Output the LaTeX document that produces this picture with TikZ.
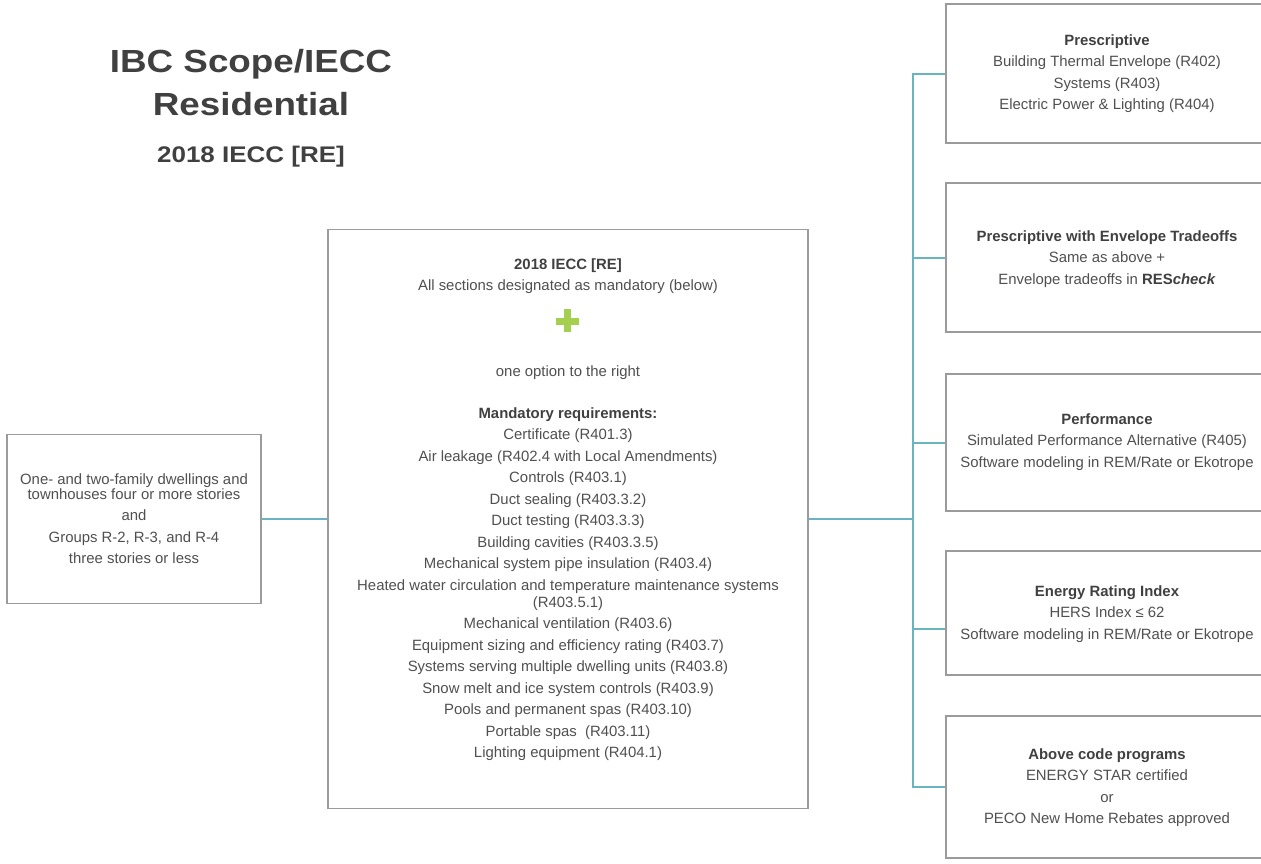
\documentclass[tikz,border=0pt]{standalone}
\usepackage{fontspec}
\setmainfont{Liberation Sans}
\newfontfamily\titlefont[FakeStretch=1.15]{Liberation Sans}
\definecolor{txtgray}{RGB}{80,80,80}
\definecolor{headgray}{RGB}{64,64,64}
\definecolor{tealline}{RGB}{106,180,193}
\definecolor{boxgray}{RGB}{155,155,155}
\definecolor{plusgreen}{RGB}{165,207,79}
\begin{document}
\begin{tikzpicture}[x=1pt,y=-1pt,
  box/.style={draw=boxgray, line width=1.6pt, fill=white, inner sep=0pt, rectangle},
  conn/.style={draw=tealline, line width=2pt},
  body/.style={align=center, inner sep=0pt, text=txtgray, font=\fontsize{14.9}{21.5}\selectfont, anchor=north},
  hd/.style={text=headgray},
  ttl/.style={inner sep=0pt, anchor=base, text=headgray}
]
\useasboundingbox (0,0) rectangle (1261,863);

% title
\node[ttl, font=\titlefont\bfseries\fontsize{32}{32}\selectfont] (t1) at (251,72) {IBC Scope/IECC};
\node[ttl, font=\titlefont\bfseries\fontsize{32}{32}\selectfont] (t2) at (251,115) {Residential};
\node[ttl, font=\titlefont\bfseries\fontsize{22.6}{22.6}\selectfont] (t3) at (251,162) {2018 IECC [RE]};

% boxes
\node[box, minimum width=254, minimum height=169] (scope) at (134,519) {};
\node[box, minimum width=480, minimum height=579] (mid) at (568,519) {};
\node[box, minimum width=322, minimum height=139] (r1) at (1107,73.5) {};
\node[box, minimum width=322, minimum height=149] (r2) at (1107,257.5) {};
\node[box, minimum width=322, minimum height=137] (r3) at (1107,442.5) {};
\node[box, minimum width=322, minimum height=124] (r4) at (1107,613) {};
\node[box, minimum width=322, minimum height=142] (r5) at (1107,787) {};

% connectors
\coordinate (trunk) at (913,519);
\draw[conn] (scope.east) -- (mid.west);
\draw[conn] (mid.east) -- (trunk);
\draw[conn] (trunk) |- (r1.west);
\draw[conn] (trunk) |- (r2.west);
\draw[conn] (trunk) |- (r3.west);
\draw[conn] (trunk) |- ([yshift=-16pt]r4.west);
\draw[conn] (trunk) |- (r5.west);

% left box text
\node[body] (scopetxt) at (134,469) {\strut One- and two-family dwellings and\\[-6.5pt]
townhouses four or more stories\\
and\\
Groups R-2, R-3, and R-4\\
three stories or less};

% middle box text
\node[body] (midhead) at (568,254) {\strut\textbf{\color{headgray}2018 IECC [RE]}\\
All sections designated as mandatory (below)};
\fill[plusgreen] (556,317.5) rectangle (579,324.5);
\fill[plusgreen] (564,309) rectangle (571,332);
\node[body] (midopt) at (568,361) {\strut one option to the right};
\node[body] (midlist) at (568,403) {\strut\textbf{\color{headgray}Mandatory requirements:}\\
Certificate (R401.3)\\
Air leakage (R402.4 with Local Amendments)\\
Controls (R403.1)\\
Duct sealing (R403.3.2)\\
Duct testing (R403.3.3)\\
Building cavities (R403.3.5)\\
Mechanical system pipe insulation (R403.4)\\
Heated water circulation and temperature maintenance systems\\[-4.5pt]
(R403.5.1)\\
Mechanical ventilation (R403.6)\\
Equipment sizing and efficiency rating (R403.7)\\
Systems serving multiple dwelling units (R403.8)\\
Snow melt and ice system controls (R403.9)\\
Pools and permanent spas (R403.10)\\
Portable spas\ \ (R403.11)\\
Lighting equipment (R404.1)};

% right box texts
\node[body] (r1txt) at (1107,30) {\strut\textbf{\color{headgray}Prescriptive}\\
Building Thermal Envelope (R402)\\
Systems (R403)\\
Electric Power \& Lighting (R404)};
\node[body] (r2txt) at (1107,226) {\strut\textbf{\color{headgray}Prescriptive with Envelope Tradeoffs}\\
Same as above +\\
Envelope tradeoffs in \textbf{\color{headgray}RES\textit{check}}};
\node[body] (r3txt) at (1107,409) {\strut\textbf{\color{headgray}Performance}\\
Simulated Performance Alternative (R405)\\
Software modeling in REM/Rate or Ekotrope};
\node[body] (r4txt) at (1107,581) {\strut\textbf{\color{headgray}Energy Rating Index}\\
HERS Index ≤ 62\\
Software modeling in REM/Rate or Ekotrope};
\node[body] (r5txt) at (1107,744) {\strut\textbf{\color{headgray}Above code programs}\\
ENERGY STAR certified\\
or\\
PECO New Home Rebates approved};
\end{tikzpicture}
\end{document}
